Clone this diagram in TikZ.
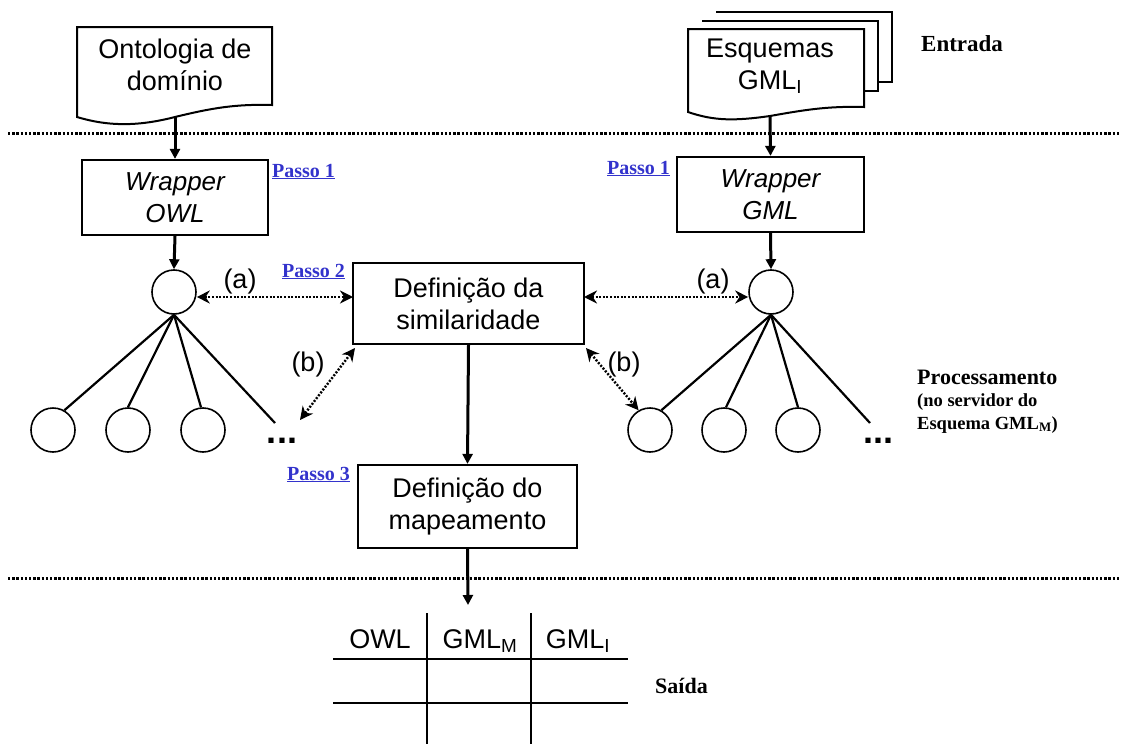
\documentclass[tikz,border=0pt]{standalone}
\usepackage{fontspec}
\setmainfont{Liberation Sans}
\newfontfamily\serifbf{Liberation Serif}
\usetikzlibrary{arrows.meta}
\definecolor{passoblue}{RGB}{51,51,204}
\begin{document}
\begin{tikzpicture}[x=1pt,y=-1pt,
  txt/.style={font=\fontsize{27}{32}\selectfont, align=center, inner sep=0pt},
  boxnode/.style={draw, line width=2.2pt, inner sep=0pt, font=\fontsize{27}{32}\selectfont, align=center},
  circ/.style={draw, circle, line width=1.6pt, minimum size=44pt, inner sep=0pt},
  flow/.style={line width=3pt, -{Triangle[length=10pt,width=10pt]}},
  tree/.style={line width=2.2pt},
  dotarrow/.style={line width=2.4pt, dash pattern=on 2pt off 1.6pt, {Stealth[length=13pt,width=13pt]}-{Stealth[length=13pt,width=13pt]}},
  sep/.style={line width=3pt, dash pattern=on 2.4pt off 1.8pt},
  sidelbl/.style={font=\serifbf\bfseries\fontsize{22}{23}\selectfont, anchor=base west, inner sep=0pt},
  sidesmall/.style={font=\serifbf\bfseries\fontsize{18.5}{23}\selectfont, anchor=base west, inner sep=0pt},
  passo/.style={font=\serifbf\bfseries\fontsize{20}{23}\selectfont, text=passoblue, anchor=base west, inner sep=0pt},
  dots/.style={font=\bfseries\fontsize{36}{40}\selectfont, inner sep=0pt, anchor=base}
]
\useasboundingbox (0,0) rectangle (1128,744);
\fill[white] (0,0) rectangle (1128,744);

% separators
\draw[sep] (8,133) -- (1120,133);
\draw[sep] (8,578) -- (1120,578);

% document: Ontologia de dominio
\draw[line width=2pt, fill=white] (77,27) -- (272,27) -- (272,105)
  .. controls (235,104) and (212,108) .. (175,117)
  .. controls (140,126) and (110,127) .. (77,117) -- cycle;
\node[txt] (onto) at (175,65) {Ontologia de\\domínio};
\coordinate (ontoB) at (175,117);

% documents: Esquemas GML
\draw[line width=2pt, fill=white] (716,12) -- (892,12) -- (892,82) -- (878,82);
\draw[line width=2pt, fill=white] (702,21) -- (878,21) -- (878,91) -- (864,91);
\draw[line width=2pt, fill=white] (688,29) -- (864,29) -- (864,107)
  .. controls (827,106) and (804,110) .. (770,116)
  .. controls (735,121) and (714,121) .. (688,112) -- cycle;
\node[txt] (esq) at (770,66) {Esquemas\\GML\textsubscript{I}};
\coordinate (esqB) at (770,116);

% wrappers
\node[boxnode, minimum width=186pt, minimum height=75pt, font=\itshape\fontsize{26}{32}\selectfont] (wowl) at (175,197.5) {Wrapper\\OWL};
\node[boxnode, minimum width=187pt, minimum height=75pt, font=\itshape\fontsize{26}{32}\selectfont] (wgml) at (770.5,194.5) {Wrapper\\GML};

\node[passo] (p1a) at (272,177) {\underline{Passo 1}};
\node[passo] (p1b) at (607,174) {\underline{Passo 1}};
\node[passo] (p2) at (282,277) {\underline{Passo 2}};
\node[passo] (p3) at (287,480) {\underline{Passo 3}};

\draw[flow] (ontoB) -- (wowl.north);
\draw[flow] (esqB) -- (wgml.north);

% similarity and mapping boxes
\node[boxnode, minimum width=231pt, minimum height=81pt] (sim) at (468.5,303.5) {Definição da\\similaridade};
\node[boxnode, minimum width=219pt, minimum height=83pt] (map) at (467.5,506.5) {Definição do\\mapeamento};

% left tree
\node[circ] (lr) at (174,292) {};
\node[circ] (lc1) at (53,430) {};
\node[circ] (lc2) at (128,430) {};
\node[circ] (lc3) at (203,430) {};
\node[dots] (ldots) at (282,443) {...};
\coordinate (ldotsT) at (275,423);
\draw[flow] (wowl.south) -- (lr.north);
\draw[tree] (lr.south) -- (lc1.60);
\draw[tree] (lr.south) -- (lc2.north);
\draw[tree] (lr.south) -- (lc3.95);
\draw[tree] (lr.south) -- (ldotsT);

% right tree
\node[circ] (rr) at (771,292) {};
\node[circ] (rc1) at (650,430) {};
\node[circ] (rc2) at (724,430) {};
\node[circ] (rc3) at (798,430) {};
\node[dots] (rdots) at (878,443) {...};
\coordinate (rdotsT) at (870,423);
\draw[flow] (wgml.south) -- (rr.north);
\draw[tree] (rr.south) -- (rc1.60);
\draw[tree] (rr.south) -- (rc2.85);
\draw[tree] (rr.south) -- (rc3.north);
\draw[tree] (rr.south) -- (rdotsT);

% dotted relations
\coordinate (simL) at (353,297);
\coordinate (simR) at (584,297);
\draw[dotarrow] (lr.east |- simL) -- (simL);
\draw[dotarrow] (simR) -- (rr.west |- simR);
\coordinate (ldotsA) at (300,420);
\coordinate (simBL) at (355,348);
\draw[dotarrow] (simBL) -- (ldotsA);
\coordinate (simBR) at (586,348);
\draw[dotarrow] (simBR) -- (rc1.120);

\node[txt] (la) at (240,282) {(a)};
\node[txt] (ra) at (713,282) {(a)};
\node[txt] (lb) at (308,365) {(b)};
\node[txt] (rb) at (624,365) {(b)};

\draw[flow] (sim.south) -- (map.north);

% table
\coordinate (tabT) at (468,605);
\draw[flow] (map.south) -- (tabT);
\draw[line width=1.8pt] (333,659) -- (628,659);
\draw[line width=1.8pt] (333,703) -- (628,703);
\draw[line width=1.8pt] (427,613) -- (427,744);
\draw[line width=1.8pt] (531,613) -- (531,744);
\node[txt, anchor=base] (hOWL) at (380,648) {OWL};
\node[txt, anchor=base] (hGMLM) at (480,648) {GML\textsubscript{M}};
\node[txt, anchor=base] (hGMLI) at (578,648) {GML\textsubscript{I}};

% side labels
\node[sidelbl, font=\serifbf\bfseries\fontsize{23}{23}\selectfont] (entrada) at (921,51) {Entrada};
\node[sidelbl] (proc) at (917,384) {Processamento};
\node[sidesmall] (proc2) at (917,406) {(no servidor do};
\node[sidesmall] (proc3) at (917,429) {Esquema GML\textsubscript{M})};
\node[sidelbl, font=\serifbf\bfseries\fontsize{22}{23}\selectfont] (saida) at (655,693) {Saída};
\end{tikzpicture}
\end{document}
